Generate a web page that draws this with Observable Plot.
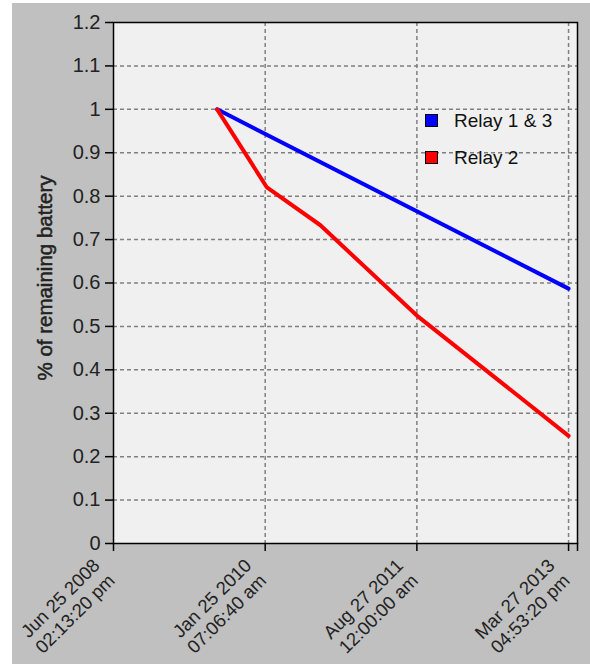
<!DOCTYPE html>
<html>
<head>
<meta charset="utf-8">
<script src="https://cdn.jsdelivr.net/npm/d3@7"></script>
<script src="https://cdn.jsdelivr.net/npm/@observablehq/plot@0.6"></script>
<style>
  html, body { margin: 0; padding: 0; background: #fff; }
  #wrap { position: absolute; left: 12px; top: 3px; width: 578px; height: 661px; background: #c0c0c0; }
  #legend { position: absolute; left: 413px; top: 99px; font: 19px "Liberation Sans", Arial, sans-serif; color: #111; }
  .item { display: flex; align-items: center; height: 37px; }
  .sw { width: 11px; height: 11px; border: 1px solid #000; margin-right: 16px; }
</style>
</head>
<body>
<div id="wrap"></div>
<script>
// ---- data ----
const seriesNames = ["Relay 1 & 3", "Relay 2"];
const seriesColors = ["#0000ff", "#ff0000"];
const relay13Dates = ["2009-07-26", "2013-03-27T16:53:20Z"];
const relay13Values = [1.0, 0.587];
const relay2Dates = ["2009-07-26", "2010-02-01", "2010-08-24", "2011-08-27", "2013-03-27T16:53:20Z"];
const relay2Values = [1.0, 0.82, 0.733, 0.525, 0.248];
const xTickDates = ["2008-06-25T14:13:20Z", "2010-01-25T07:06:40Z", "2011-08-27T00:00:00Z", "2013-03-27T16:53:20Z"];
const xTickLabels = ["Jun 25 2008\n02:13:20 pm", "Jan 25 2010\n07:06:40 am", "Aug 27 2011\n12:00:00 am", "Mar 27 2013\n04:53:20 pm"];
const xDomainEnd = "2013-04-30T19:00:00Z";
const yTicks = [0, 0.1, 0.2, 0.3, 0.4, 0.5, 0.6, 0.7, 0.8, 0.9, 1, 1.1, 1.2];
const yTickLabels = ["0", "0.1", "0.2", "0.3", "0.4", "0.5", "0.6", "0.7", "0.8", "0.9", "1", "1.1", "1.2"];
const yLabel = "% of remaining battery";

// ---- build ----
const parse = s => new Date(s);
const rows = [
  ...relay13Dates.map((d, i) => ({series: seriesNames[0], date: parse(d), value: relay13Values[i]})),
  ...relay2Dates.map((d, i) => ({series: seriesNames[1], date: parse(d), value: relay2Values[i]}))
];
const tickDates = xTickDates.map(parse);
const allXTicks = [...tickDates, parse(xDomainEnd)];
const labelMap = new Map(tickDates.map((d, i) => [+d, xTickLabels[i]]));
const yLabelMap = new Map(yTicks.map((v, i) => [v, yTickLabels[i]]));
const gridX = tickDates.slice(1);
const gridY = yTicks.slice(1, -1);

const font = '"Liberation Sans", Arial, sans-serif';

const chart = Plot.plot({
  width: 578,
  height: 661,
  marginLeft: 101,
  marginRight: 13,
  marginTop: 19,
  marginBottom: 121,
  style: { background: "transparent", fontFamily: font, fontSize: "19px", color: "#222" },
  x: { type: "utc", domain: [tickDates[0], parse(xDomainEnd)] },
  y: { domain: [0, 1.2] },
  color: { domain: seriesNames, range: seriesColors },
  marks: [
    Plot.frame({ fill: "#f0f0f0" }),
    Plot.ruleX(gridX, { stroke: "#808080", strokeWidth: 1.5, strokeDasharray: "4,3" }),
    Plot.ruleY(gridY, { stroke: "#808080", strokeWidth: 1.5, strokeDasharray: "4,3" }),
    Plot.line(rows, { x: "date", y: "value", z: "series", stroke: "series", strokeWidth: 4, strokeLinejoin: "round" }),
    Plot.frame({ stroke: "#000", strokeWidth: 1.5 }),
    Plot.axisY({ ticks: yTicks, tickSize: 8, tickPadding: 5, tickFormat: v => yLabelMap.get(v), label: null, stroke: "#000", strokeWidth: 1.5, fontSize: 20 }),
    Plot.axisX({ ticks: allXTicks, tickSize: 8, tickFormat: () => "", label: null, stroke: "#000", strokeWidth: 1.5 }),
    Plot.axisX({ ticks: tickDates, tickSize: 0, tickPadding: 26, dx: -10, tickRotate: -45, tickFormat: d => labelMap.get(+d), label: null, fontSize: 18.5, lineHeight: 1.15 }),
    Plot.text([yLabel], { frameAnchor: "left", dx: -68, dy: -5, rotate: -90, textAnchor: "middle", text: d => d, fontSize: 20.5, fill: "#222", stroke: "#222", strokeWidth: 0.5 })
  ]
});
const wrap = document.getElementById("wrap");
wrap.appendChild(chart);

const legend = document.createElement("div");
legend.id = "legend";
seriesNames.forEach((n, i) => {
  const it = document.createElement("div");
  it.className = "item";
  const sw = document.createElement("span");
  sw.className = "sw";
  sw.style.background = seriesColors[i];
  const t = document.createElement("span");
  t.textContent = n;
  it.appendChild(sw); it.appendChild(t);
  legend.appendChild(it);
});
wrap.appendChild(legend);
</script>
</body>
</html>
